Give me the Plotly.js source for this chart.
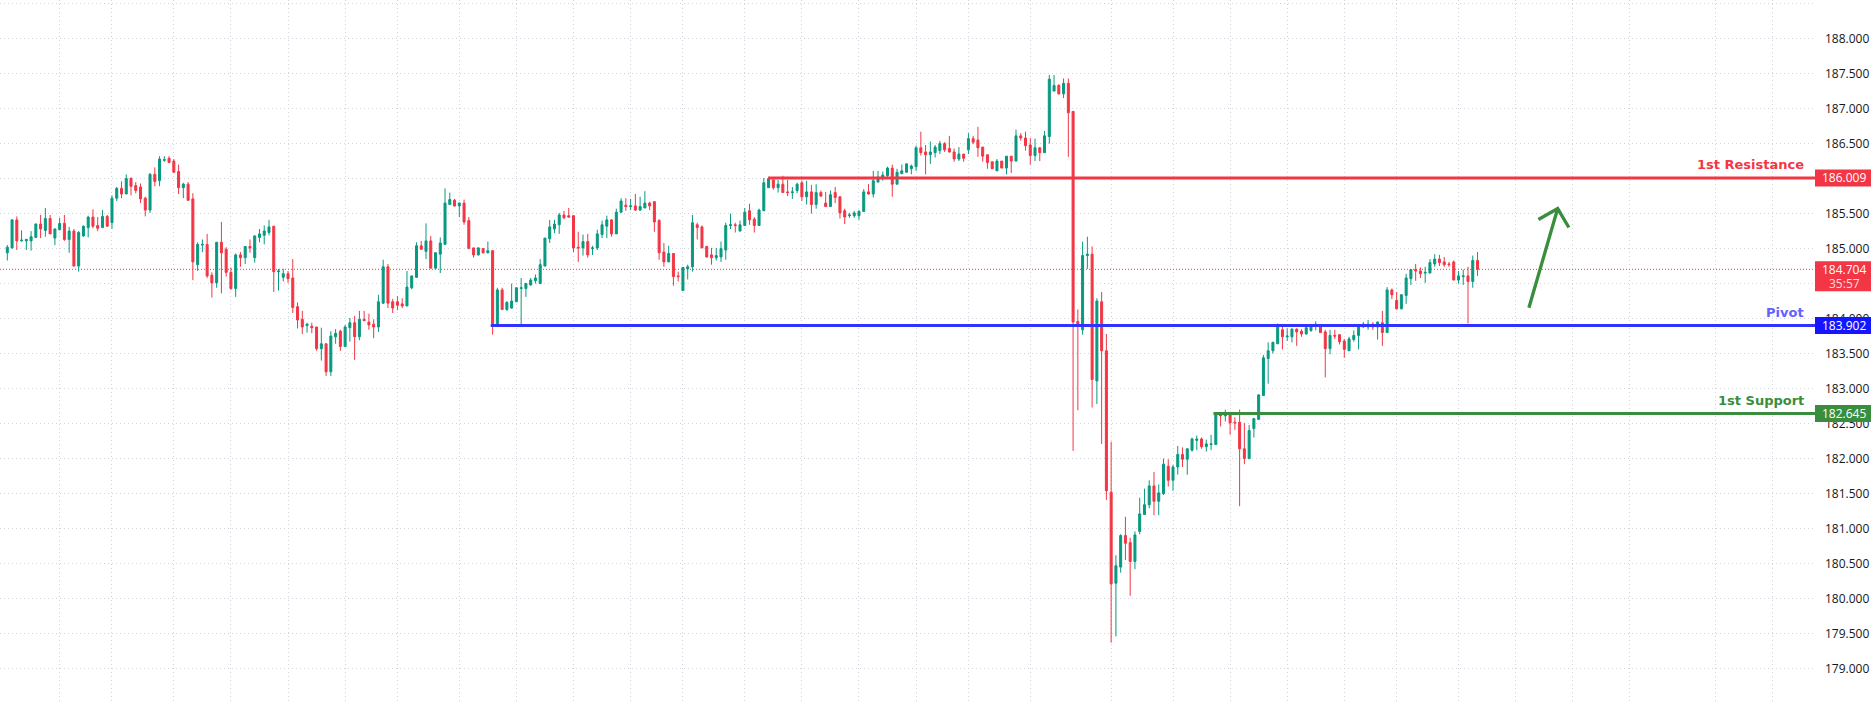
<!DOCTYPE html>
<html><head><meta charset="utf-8">
<script src="https://cdn.plot.ly/plotly-3.0.1.min.js"></script>
<style>html,body{margin:0;padding:0;background:#fff;overflow:hidden}#chart{width:1876px;height:701px}</style>
</head><body><div id="chart"></div>
<script>
// ---------- data ----------
const openP = [
184.94,185.01,185.41,185.11,185.11,185.11,185.16,185.35,185.26,185.43,
185.15,185.27,185.36,185.13,185.25,184.75,185.18,185.30,185.45,185.33,
185.30,185.46,185.37,185.72,185.86,185.78,186.00,185.90,185.88,185.72,
185.55,186.06,185.97,186.26,186.29,186.25,186.10,185.87,185.92,185.71,
184.77,185.05,185.06,184.62,184.51,185.09,184.99,184.66,184.43,184.91,
184.87,185.03,184.87,185.16,185.19,185.23,185.32,184.67,184.59,184.64,
184.58,184.17,183.99,183.90,183.89,183.88,183.57,183.64,183.24,183.74,
183.82,183.60,183.87,183.94,183.74,183.99,183.95,183.92,183.88,184.22,
184.74,184.24,184.24,184.21,184.18,184.44,184.59,185.04,184.96,185.11,
184.72,184.92,185.06,185.63,185.69,185.61,185.65,185.40,185.01,184.91,
185.00,184.94,184.97,183.90,184.41,184.13,184.15,184.24,184.43,184.43,
184.48,184.54,184.50,184.75,185.14,185.28,185.34,185.48,185.47,185.47,
185.02,185.01,185.10,185.00,185.01,185.20,185.32,185.41,185.21,185.52,
185.62,185.60,185.61,185.55,185.58,185.65,185.67,185.40,184.95,184.81,
184.93,184.61,184.40,184.71,184.74,185.34,185.31,185.03,184.91,184.87,
184.88,184.98,185.33,185.34,185.25,185.33,185.54,185.42,185.33,185.54,
185.87,185.98,185.87,185.92,185.81,185.80,185.83,185.94,185.74,185.81,
185.63,185.80,185.65,185.60,185.80,185.74,185.54,185.47,185.47,185.47,
185.53,185.81,185.78,185.95,186.00,186.04,186.15,185.92,186.07,186.09,
186.14,186.17,186.44,186.38,186.34,186.37,186.40,186.50,186.43,186.38,
186.28,186.35,186.41,186.57,186.55,186.45,186.34,186.24,186.11,186.25,
186.15,186.32,186.25,186.61,186.58,186.48,186.33,186.44,186.37,186.60,
187.25,187.33,187.21,187.36,186.96,183.96,183.84,184.90,184.92,183.11,
184.24,183.54,181.52,180.22,180.45,180.90,180.80,180.53,180.96,181.20,
181.34,181.61,181.39,181.50,181.89,181.69,181.88,182.06,181.99,182.12,
182.26,182.28,182.17,182.20,182.20,182.63,182.61,182.63,182.52,182.52,
182.14,182.00,182.43,182.56,182.90,183.43,183.54,183.64,183.84,183.74,
183.74,183.85,183.82,183.78,183.83,183.90,183.91,183.81,183.57,183.76,
183.77,183.68,183.54,183.70,183.76,183.88,183.88,183.92,183.88,183.94,
183.80,184.41,184.26,184.14,184.33,184.57,184.70,184.68,184.65,184.65,
184.78,184.85,184.81,184.78,184.81,184.55,184.60,184.61,184.53,184.83];
const highP = [
185.05,185.42,185.46,185.26,185.14,185.25,185.36,185.48,185.58,185.48,
185.29,185.44,185.48,185.31,185.28,185.25,185.33,185.47,185.56,185.45,
185.55,185.48,185.76,185.88,185.96,186.06,186.02,185.95,185.93,185.74,
186.08,186.16,186.32,186.32,186.32,186.28,186.20,185.94,185.95,185.79,
185.09,185.13,185.21,184.66,185.09,185.38,185.02,184.73,184.93,184.95,
185.03,185.13,185.19,185.28,185.33,185.41,185.32,184.71,184.71,184.68,
184.85,184.23,184.11,183.94,183.94,183.88,183.87,183.64,183.82,183.85,
183.84,183.91,184.01,184.04,184.11,184.11,184.07,183.99,184.34,184.84,
184.78,184.28,184.32,184.29,184.68,184.61,185.09,185.11,185.36,185.18,
184.95,185.16,185.86,185.80,185.71,185.66,185.70,185.45,185.01,185.02,
185.00,185.10,184.98,184.44,184.44,184.25,184.50,184.45,184.58,184.51,
184.58,184.63,184.85,185.15,185.41,185.41,185.51,185.54,185.58,185.47,
185.24,185.20,185.21,185.04,185.27,185.40,185.47,185.42,185.57,185.72,
185.72,185.71,185.78,185.74,185.82,185.67,185.68,185.42,185.08,185.04,
184.93,184.67,184.73,184.77,185.48,185.37,185.33,185.04,185.01,185.01,
185.10,185.37,185.50,185.37,185.40,185.58,185.64,185.45,185.57,186.01,
186.02,185.98,185.98,186.04,185.98,185.88,185.94,185.97,185.97,185.91,
185.92,185.83,185.81,185.83,185.88,185.74,185.57,185.51,185.54,185.55,
185.85,185.92,186.11,186.11,186.10,186.17,186.20,186.14,186.20,186.21,
186.20,186.47,186.67,186.48,186.53,186.48,186.54,186.52,186.61,186.43,
186.45,186.35,186.65,186.61,186.74,186.45,186.34,186.24,186.28,186.25,
186.32,186.32,186.70,186.65,186.67,186.58,186.57,186.45,186.68,187.48,
187.48,187.35,187.43,187.43,186.96,184.13,185.10,185.17,185.03,184.29,
184.38,183.78,182.24,180.62,180.92,181.17,180.87,180.96,181.44,181.57,
181.69,181.81,181.63,182.00,181.99,181.91,182.18,182.16,182.14,182.30,
182.33,182.30,182.27,182.34,182.66,182.65,182.70,182.64,182.59,182.70,
182.51,182.48,182.58,182.92,183.48,183.66,183.67,183.93,183.90,183.86,
183.86,183.86,183.85,183.92,183.92,183.96,183.92,183.84,183.84,183.84,
183.77,183.71,183.74,183.83,183.89,183.95,183.98,183.95,183.96,184.11,
184.45,184.43,184.38,184.35,184.64,184.70,184.78,184.73,184.74,184.85,
184.92,184.91,184.88,184.81,184.83,184.68,184.70,184.74,184.90,184.95];
const lowP = [
184.83,185.00,184.98,185.10,184.98,184.97,185.15,185.15,185.17,185.21,
185.05,185.26,185.11,184.94,184.75,184.67,185.17,185.16,185.29,185.25,
185.30,185.31,185.28,185.68,185.72,185.78,185.76,185.79,185.65,185.46,
185.51,185.89,185.89,186.24,186.22,186.09,185.78,185.72,185.68,184.55,
184.68,184.95,184.58,184.30,184.44,184.36,184.60,184.41,184.31,184.74,
184.78,184.94,184.80,185.09,185.06,185.19,184.38,184.40,184.53,184.51,
184.08,183.86,183.78,183.80,183.79,183.54,183.40,183.18,183.18,183.64,
183.54,183.60,183.67,183.41,183.69,183.97,183.84,183.72,183.81,184.21,
184.15,184.08,184.12,184.15,184.18,184.42,184.58,184.98,184.85,184.72,
184.71,184.65,185.06,185.63,185.60,185.45,185.34,185.00,184.87,184.90,
184.93,184.93,183.77,183.88,184.13,184.11,184.14,184.24,183.91,184.31,
184.47,184.50,184.50,184.75,185.08,185.22,185.21,185.42,185.44,184.95,
184.81,184.90,184.87,184.91,184.98,185.15,185.15,185.17,185.21,185.51,
185.54,185.55,185.54,185.54,185.58,185.55,185.24,184.84,184.74,184.81,
184.47,184.53,184.40,184.56,184.67,185.13,185.01,184.87,184.77,184.83,
184.81,184.84,185.28,185.23,185.25,185.33,185.34,185.23,185.33,185.54,
185.87,185.84,185.80,185.80,185.75,185.71,185.79,185.68,185.63,185.50,
185.57,185.74,185.60,185.60,185.65,185.43,185.35,185.44,185.44,185.41,
185.53,185.77,185.73,185.95,185.97,186.02,185.74,185.92,186.07,186.09,
186.06,186.11,186.33,186.06,186.21,186.30,186.35,186.38,186.37,186.24,
186.25,186.24,186.35,186.49,186.31,186.24,186.14,186.14,186.11,186.15,
186.06,186.08,186.25,186.54,186.40,186.20,186.25,186.25,186.37,186.50,
187.25,187.20,187.15,186.31,182.11,182.69,183.77,184.71,182.73,182.78,
182.21,181.41,179.37,179.46,180.37,180.55,180.04,180.42,180.92,181.20,
181.29,181.19,181.19,181.48,181.60,181.54,181.77,181.88,181.77,182.10,
182.12,182.14,182.10,182.12,182.20,182.46,182.53,182.34,182.41,181.32,
181.92,181.99,182.30,182.56,182.90,183.07,183.50,183.64,183.56,183.68,
183.66,183.61,183.74,183.77,183.81,183.83,183.80,183.16,183.49,183.71,
183.63,183.44,183.54,183.67,183.56,183.87,183.84,183.84,183.70,183.61,
183.80,184.28,184.13,184.13,184.21,184.48,184.54,184.58,184.51,184.65,
184.74,184.75,184.74,184.74,184.55,184.50,184.48,183.93,184.44,184.61];
const closeP = [
185.02,185.41,185.11,185.12,185.13,185.17,185.35,185.28,185.43,185.21,
185.28,185.36,185.13,185.25,184.75,185.23,185.32,185.45,185.32,185.29,
185.46,185.32,185.72,185.86,185.78,186.00,185.89,185.83,185.71,185.55,
186.06,185.96,186.28,186.27,186.23,186.09,185.87,185.92,185.69,184.81,
185.06,185.06,184.61,184.51,185.09,184.94,184.66,184.43,184.91,184.87,
185.03,185.01,185.18,185.21,185.25,185.31,184.67,184.68,184.64,184.57,
184.16,183.98,183.88,183.92,183.87,183.57,183.64,183.24,183.75,183.79,
183.60,183.88,183.94,183.74,183.99,183.97,183.91,183.88,184.24,184.74,
184.22,184.15,184.19,184.18,184.45,184.61,185.04,184.99,185.11,184.72,
184.94,185.08,185.65,185.70,185.61,185.65,185.38,185.00,184.91,185.01,
184.94,184.97,183.90,184.41,184.13,184.23,184.25,184.44,184.44,184.50,
184.55,184.58,184.77,185.15,185.31,185.35,185.48,185.44,185.45,185.01,
185.01,185.10,184.91,185.01,185.21,185.34,185.41,185.21,185.52,185.68,
185.60,185.61,185.55,185.60,185.65,185.61,185.38,184.94,184.81,184.93,
184.60,184.60,184.73,184.74,185.37,185.30,185.01,184.88,184.87,184.90,
185.00,185.33,185.34,185.33,185.34,185.52,185.41,185.33,185.55,185.94,
186.00,185.87,185.92,185.80,185.80,185.81,185.92,185.74,185.81,185.63,
185.80,185.75,185.60,185.77,185.73,185.51,185.45,185.48,185.51,185.53,
185.81,185.78,185.97,186.02,186.05,186.15,185.92,186.09,186.11,186.21,
186.18,186.44,186.37,186.34,186.38,186.45,186.50,186.41,186.38,186.28,
186.35,186.29,186.57,186.52,186.44,186.32,186.23,186.14,186.25,186.15,
186.32,186.25,186.61,186.58,186.47,186.33,186.44,186.37,186.61,187.42,
187.33,187.21,187.36,186.94,183.95,183.90,184.90,184.92,183.13,184.25,
183.54,181.54,180.21,180.47,180.90,180.79,180.53,180.91,181.21,181.34,
181.61,181.39,181.51,181.92,181.69,181.88,182.06,181.99,182.14,182.28,
182.28,182.17,182.21,182.21,182.64,182.61,182.63,182.51,182.51,182.14,
182.00,182.40,182.57,182.91,183.44,183.54,183.66,183.90,183.74,183.75,
183.85,183.81,183.78,183.87,183.91,183.92,183.80,183.57,183.76,183.75,
183.67,183.56,183.71,183.76,183.88,183.92,183.92,183.88,183.95,183.80,
184.41,184.34,184.14,184.34,184.58,184.70,184.68,184.64,184.66,184.80,
184.85,184.80,184.77,184.77,184.55,184.61,184.61,184.53,184.83,184.704];
const candleIndex = openP.map((_, i) => i);

// vertical grid positions (candle index of each time gridline)
const timeGridIndex = [11,22,35,47,59,71,82,95,107,119,131,142,155,167,179,191,202,215,232,245,257,269,281,292,305,317,329,341,359,371];

// price-axis ticks; labels fully covered by a price tag are not drawn in the reference
const priceTicks = [178.5,179,179.5,180,180.5,181,181.5,182,182.5,183,183.5,184,184.5,185,185.5,186,186.5,187,187.5,188,188.5];
const coveredTicks = [184.5, 186];

// horizontal levels
const levelNames  = ['1st Resistance', 'Pivot', '1st Support'];
const levelValues = [186.009, 183.902, 182.645];
const levelStartIndex = [159.9, 101.6, 253.5];
const levelLineColors = ['#F23645', '#3232FF', '#388E3C'];
const levelTextColors = ['#F23645', '#6262FF', '#388E3C'];
const levelBoxColors  = ['#F23645', '#1515FF', '#388E3C'];

const lastPrice = 184.704;
const countdownText = '35:57';

// hand-drawn arrow (index, price)
const arrowShaft = [[319.8, 184.154], [325.85, 185.572]];
const arrowHeadL = [321.8, 185.415];
const arrowHeadR = [328.2, 185.301];

// ---------- layout constants ----------
const W = 1876, H = 701, plotRight = 1815;
const xRange = [-1.534, 379.93];
const yRange = [178.537, 188.551];
const py = v => (v - yRange[0]) / (yRange[1] - yRange[0]);
const pxToPaperY = p => p / H;
const pxToPaperX = p => p / plotRight;

const shapes = [];
const annotations = [];

// current price dotted line
shapes.push({type:'line', xref:'paper', yref:'y', x0:0, x1:1, y0:lastPrice, y1:lastPrice,
  line:{color:'#F23645', width:1, dash:'1px,2px'}, layer:'below'});

levelValues.forEach((v, k) => {
  shapes.push({type:'line', xref:'x', yref:'y', x0:levelStartIndex[k], x1:xRange[1], y0:v, y1:v,
    line:{color:levelLineColors[k], width:3}, layer:'above'});
  shapes.push({type:'rect', xref:'paper', yref:'paper', x0:1, x1:pxToPaperX(1871),
    y0:py(v) - pxToPaperY(8.5), y1:py(v) + pxToPaperY(8.5),
    fillcolor:levelBoxColors[k], line:{width:0}, layer:'above'});
  annotations.push({xref:'paper', yref:'y', x:pxToPaperX(1806), y:v, xanchor:'right', yanchor:'middle',
    yshift:13, text:levelNames[k], showarrow:false,
    font:{family:'DejaVu Sans', size:13, color:levelTextColors[k], weight:'bold'}});
  annotations.push({xref:'paper', yref:'y', x:pxToPaperX(1844), y:v, xanchor:'center', yanchor:'middle',
    text:v.toFixed(3), showarrow:false, font:{family:'Open Sans', size:12, color:'#ffffff'}});
});

// current price box
shapes.push({type:'rect', xref:'paper', yref:'paper', x0:1, x1:pxToPaperX(1871),
  y0:py(lastPrice) - pxToPaperY(22), y1:py(lastPrice) + pxToPaperY(8),
  fillcolor:'#F23645', line:{width:0}, layer:'above'});
annotations.push({xref:'paper', yref:'y', x:pxToPaperX(1844), y:lastPrice, xanchor:'center', yanchor:'middle',
  text:lastPrice.toFixed(3), showarrow:false, font:{family:'Open Sans', size:12, color:'#ffffff'}});
annotations.push({xref:'paper', yref:'y', x:pxToPaperX(1844), y:lastPrice, yshift:-14, xanchor:'center', yanchor:'middle',
  text:countdownText, showarrow:false, font:{family:'Open Sans', size:12, color:'rgba(255,255,255,0.85)'}});

// arrow
shapes.push({type:'path', xref:'x', yref:'y',
  path:`M${arrowShaft[0][0]},${arrowShaft[0][1]} L${arrowShaft[1][0]},${arrowShaft[1][1]} M${arrowHeadL[0]},${arrowHeadL[1]} L${arrowShaft[1][0]},${arrowShaft[1][1]} L${arrowHeadR[0]},${arrowHeadR[1]}`,
  line:{color:'#388E3C', width:3.3}, layer:'above'});

const trace = {
  type:'candlestick', x:candleIndex, open:openP, high:highP, low:lowP, close:closeP,
  increasing:{line:{color:'#089981', width:1}, fillcolor:'#089981'},
  decreasing:{line:{color:'#F23645', width:1}, fillcolor:'#F23645'},
  whiskerwidth:0, hoverinfo:'none', showlegend:false
};

const layout = {
  width:W, height:H, margin:{l:0, r:W - plotRight, t:0, b:0, pad:0},
  paper_bgcolor:'#ffffff', plot_bgcolor:'#ffffff', showlegend:false,
  boxgap:0.4, boxgroupgap:0.3,
  xaxis:{range:xRange, type:'linear', tickmode:'array', tickvals:timeGridIndex, showticklabels:false,
    ticks:'', showgrid:true, gridcolor:'#d0d3da', griddash:'1px,3px', gridwidth:1,
    zeroline:false, showline:false, rangeslider:{visible:false}, fixedrange:true},
  yaxis:{range:yRange, side:'right', tickmode:'array', tickvals:priceTicks,
    ticktext:priceTicks.map(v => coveredTicks.includes(v) ? '' : v.toFixed(3)),
    ticks:'', ticklabelstandoff:9, showgrid:true, gridcolor:'#d0d3da', griddash:'1px,3px', gridwidth:1,
    zeroline:false, showline:false, fixedrange:true,
    tickfont:{family:'Open Sans', size:12, color:'#131722'}},
  shapes:shapes, annotations:annotations
};

Plotly.newPlot('chart', [trace], layout, {displayModeBar:false, staticPlot:true});
</script>
</body></html>
